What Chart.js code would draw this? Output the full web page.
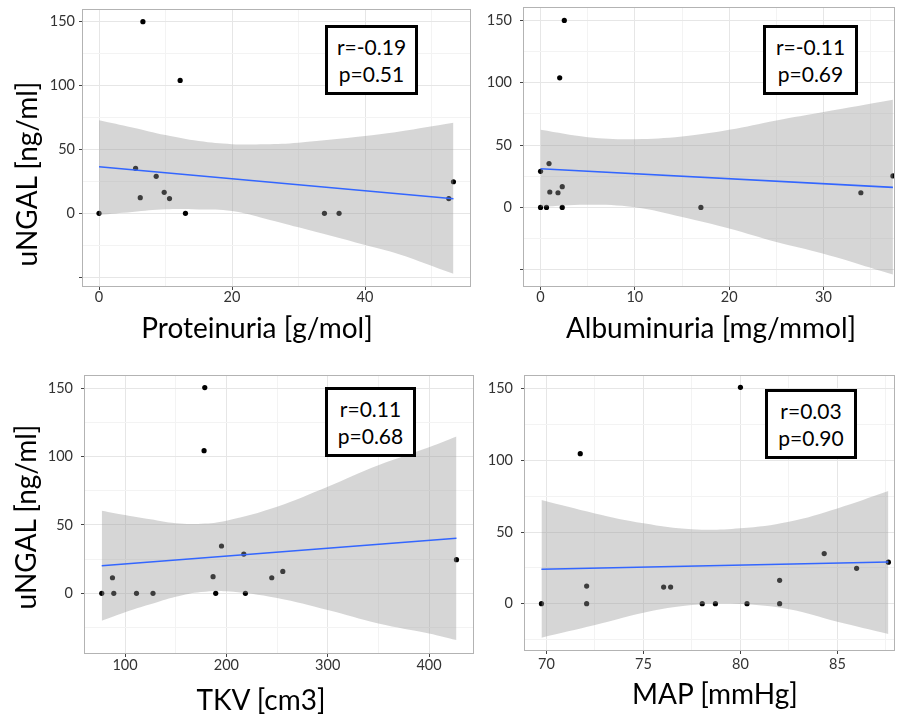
<!DOCTYPE html>
<html>
<head>
<meta charset="utf-8">
<title>uNGAL correlations</title>
<script src="https://cdn.jsdelivr.net/npm/chart.js@4.4.1/dist/chart.umd.min.js"></script>
<style>
  body { margin: 0; background: #fff; }
  #wrap { position: relative; width: 899px; height: 715px; overflow: hidden; font-family: Lato, "Open Sans", sans-serif; color: #000; }
  canvas { position: absolute; }
  .xtitle, .ytitle { position: absolute; font-size: 28px; line-height: 1; white-space: nowrap; }
  .xtitle { transform: translate(-50%, -50%); }
  .ytitle { transform: translate(-50%, -50%) rotate(-90deg); }
  .stat { position: absolute; box-sizing: border-box; border: 3px solid #000; background: #fff;
          display: flex; flex-direction: column; justify-content: center; align-items: center;
          font-size: 21px; line-height: 27px; }
</style>
</head>
<body>
<div id="wrap">
  <canvas id="cProt" width="480" height="350" style="left:0;top:0"></canvas>
  <canvas id="cAlb" width="419" height="350" style="left:480px;top:0"></canvas>
  <canvas id="cTkv" width="480" height="355" style="left:0;top:360px"></canvas>
  <canvas id="cMap" width="419" height="355" style="left:480px;top:360px"></canvas>

  <div class="ytitle" style="left:25.5px;top:174px">uNGAL [ng/ml]</div>
  <div class="ytitle" style="left:25px;top:517px">uNGAL [ng/ml]</div>
  <div class="xtitle" style="left:257px;top:327px">Proteinuria [g/mol]</div>
  <div class="xtitle" style="left:711px;top:327px">Albuminuria [mg/mmol]</div>
  <div class="xtitle" style="left:261px;top:699px">TKV [cm3]</div>
  <div class="xtitle" style="left:715px;top:693px">MAP [mmHg]</div>

  <div class="stat" style="left:325px;top:25px;width:93px;height:70px"><div>r=-0.19</div><div>p=0.51</div></div>
  <div class="stat" style="left:763px;top:25px;width:95px;height:70px"><div>r=-0.11</div><div>p=0.69</div></div>
  <div class="stat" style="left:325px;top:387px;width:91px;height:70px"><div>r=0.11</div><div>p=0.68</div></div>
  <div class="stat" style="left:765px;top:389px;width:92px;height:70px"><div>r=0.03</div><div>p=0.90</div></div>
</div>

<script>
// shared y axis (uNGAL)
const yGrid = [-50, -25, 0, 25, 50, 75, 100, 125, 150];
const yMarks = [-50, 0, 50, 100, 150];
const yLabels = [0, 50, 100, 150];

// Proteinuria
const protX = [0, 5.5, 6.2, 6.6, 8.6, 9.8, 10.6, 12.2, 13.0, 33.9, 36.1, 52.6, 53.3];
const protY = [0, 35.2, 12.2, 150, 28.9, 16.4, 11.5, 104, 0, 0, 0, 11.5, 24.7];
const protFitX = [0, 53.3];
const protFitY = [36.4, 11.4];
const protBandX = [0, 5, 10, 15, 20, 25, 30, 40, 45, 53.3];
const protBandHi = [72.9, 67.2, 61.2, 56.5, 54.1, 54.0, 55.2, 60.4, 63.8, 70.8];
const protBandLo = [-1.3, 1.0, 3.1, 3.0, 1.8, -4.2, -11.0, -24.8, -31.8, -47.4];
const protXGrid = [0, 10, 20, 30, 40, 50];
const protXLabels = [0, 20, 40];

// Albuminuria
const albX = [0, 0, 0.63, 0.9, 0.98, 1.85, 2.03, 2.3, 2.3, 2.52, 17.0, 33.96, 37.36];
const albY = [29.0, 0, 0, 35.2, 12.4, 11.8, 104, 16.7, 0, 150, 0, 11.8, 25.3];
const albFitX = [0, 37.36];
const albFitY = [31.1, 16.1];
const albBandX = [0, 5, 10, 15, 20, 25, 30, 37.36];
const albBandHi = [62.3, 56.4, 54.8, 56.9, 62.3, 69.8, 76.6, 86.5];
const albBandLo = [0.5, 2.2, 0.2, -7.6, -16.9, -27.7, -37.1, -53.8];
const albXGrid = [0, 5, 10, 15, 20, 25, 30, 35];
const albXLabels = [0, 10, 20, 30];

// TKV
const tkvX = [77, 87.6, 88.9, 111.3, 127.6, 178, 178.7, 186.9, 189.5, 195.2, 217.2, 218.8, 244.8, 255.7, 427.1];
const tkvY = [0, 11.4, 0, 0, 0, 104.2, 150.3, 12.2, 0, 34.6, 28.7, 0, 11.4, 16.0, 24.6];
const tkvFitX = [77, 427.1];
const tkvFitY = [20.2, 40.2];
const tkvBandX = [77, 100, 125, 150, 175, 200, 250, 300, 350, 400, 427.1];
const tkvBandHi = [60.4, 57.2, 54.1, 51.2, 50.9, 53.1, 63.3, 77.9, 93.5, 106.7, 114.5];
const tkvBandLo = [-20.0, -13.8, -8.0, -2.5, 1.0, 1.5, -3.4, -12.2, -22.0, -29.3, -34.1];
const tkvXGrid = [50, 100, 150, 200, 250, 300, 350, 400];
const tkvXLabels = [100, 200, 300, 400];

// MAP
const mapX = [69.74, 71.74, 72.07, 72.07, 76.04, 76.4, 78.03, 78.71, 80.0, 80.34, 82.02, 82.02, 84.32, 85.99, 87.63];
const mapY = [0, 104.7, 12.3, 0, 11.6, 11.6, 0, 0, 151, 0, 16.3, 0, 35.0, 24.7, 29.0];
const mapFitX = [69.74, 87.63];
const mapFitY = [24.0, 29.1];
const mapBandX = [69.74, 72.5, 75, 77.5, 80, 82.5, 85, 87.63];
const mapBandHi = [72.3, 63.0, 56.1, 51.9, 52.6, 57.2, 66.5, 78.6];
const mapBandLo = [-23.7, -14.9, -6.3, -0.9, -0.2, -3.9, -12.6, -21.1];
const mapXGrid = [70, 72.5, 75, 77.5, 80, 82.5, 85, 87.5];
const mapXLabels = [70, 75, 80, 85];

const pairs = (xs, ys) => xs.map((x, i) => ({ x: x, y: ys[i] }));
const has = (list, v) => list.some(t => Math.abs(t - v) < 1e-9);
const tickFont = { family: 'Lato', size: 14.5, lineHeight: 1 };

// light grey frame round the plot area, like the ggplot panel border
const frame = {
    id: 'frame',
    afterDatasetsDraw(chart) {
        const a = chart.chartArea, ctx = chart.ctx;
        ctx.save();
        ctx.strokeStyle = '#b3b3b3';
        ctx.lineWidth = 1;
        ctx.strokeRect(a.left + 0.5, a.top + 0.5, a.right - a.left - 1, a.bottom - a.top - 1);
        ctx.restore();
    }
};

function panel(id, p) {
    return new Chart(document.getElementById(id), {
        type: 'line',
        data: {
            datasets: [
                { data: pairs(p.fitX, p.fitY), borderColor: '#3366ff', borderWidth: 1.6, pointRadius: 0 },
                { data: pairs(p.bandX, p.bandHi), fill: '+1', backgroundColor: 'rgba(153,153,153,0.4)',
                  borderColor: 'rgba(0,0,0,0)', borderWidth: 0, pointRadius: 0, tension: 0.4 },
                { data: pairs(p.bandX, p.bandLo), fill: false,
                  borderColor: 'rgba(0,0,0,0)', borderWidth: 0, pointRadius: 0, tension: 0.4 },
                { data: pairs(p.x, p.y), showLine: false, pointRadius: 2.6,
                  pointBackgroundColor: '#000', pointBorderWidth: 0 }
            ]
        },
        options: {
            responsive: false,
            animation: false,
            events: [],
            layout: { padding: { top: p.padTop, right: p.padRight, left: 0, bottom: 0 } },
            plugins: { legend: { display: false }, tooltip: { enabled: false } },
            scales: {
                x: {
                    type: 'linear', min: p.xMin, max: p.xMax, bounds: 'data',
                    afterBuildTicks: s => { s.ticks = p.xGrid.filter(v => v >= p.xMin && v <= p.xMax).map(v => ({ value: v })); },
                    afterFit: s => { s.height = p.xAxisH; s.paddingLeft = 0; s.paddingRight = 0; },
                    border: { display: false },
                    grid: {
                        color: c => has(p.xLabels, c.tick.value) ? '#e6e6e6' : '#f3f3f3',
                        tickColor: c => has(p.xLabels, c.tick.value) ? '#444' : 'rgba(0,0,0,0)',
                        tickLength: 3
                    },
                    ticks: { autoSkip: false, maxRotation: 0, padding: p.xTickPad, color: '#333', font: tickFont,
                             callback: v => has(p.xLabels, v) ? String(v) : '' }
                },
                y: {
                    type: 'linear', min: p.yMin, max: p.yMax, bounds: 'data',
                    afterBuildTicks: s => { s.ticks = yGrid.filter(v => v >= p.yMin && v <= p.yMax).map(v => ({ value: v })); },
                    afterFit: s => { s.width = p.yAxisW; s.paddingTop = 0; s.paddingBottom = 0; },
                    border: { display: false },
                    grid: {
                        color: c => has(yMarks, c.tick.value) ? '#e6e6e6' : '#f3f3f3',
                        tickColor: c => has(yMarks, c.tick.value) ? '#444' : 'rgba(0,0,0,0)',
                        tickLength: 3
                    },
                    ticks: { autoSkip: false, padding: p.yTickPad, color: '#333', font: tickFont,
                             callback: v => has(yLabels, v) ? String(v) : '' }
                }
            }
        },
        plugins: [frame]
    });
}

panel('cProt', {
    x: protX, y: protY, fitX: protFitX, fitY: protFitY,
    bandX: protBandX, bandHi: protBandHi, bandLo: protBandLo,
    xGrid: protXGrid, xLabels: protXLabels,
    xMin: -2.56, xMax: 55.94, yMin: -57.7, yMax: 159.9,
    padTop: 9, padRight: 9, yAxisW: 82, xAxisH: 63, yTickPad: 4, xTickPad: 0
});
panel('cAlb', {
    x: albX, y: albY, fitX: albFitX, fitY: albFitY,
    bandX: albBandX, bandHi: albBandHi, bandLo: albBandLo,
    xGrid: albXGrid, xLabels: albXLabels,
    xMin: -1.86, xMax: 37.58, yMin: -63.8, yMax: 160.8,
    padTop: 7, padRight: 0, yAxisW: 43, xAxisH: 63, yTickPad: 8, xTickPad: 0
});
panel('cTkv', {
    x: tkvX, y: tkvY, fitX: tkvFitX, fitY: tkvFitY,
    bandX: tkvBandX, bandHi: tkvBandHi, bandLo: tkvBandLo,
    xGrid: tkvXGrid, xLabels: tkvXLabels,
    xMin: 59.5, xMax: 444.4, yMin: -44.3, yMax: 159.5,
    padTop: 15, padRight: 6, yAxisW: 84, xAxisH: 61, yTickPad: 8, xTickPad: 1
});
panel('cMap', {
    x: mapX, y: mapY, fitX: mapFitX, fitY: mapFitY,
    bandX: mapBandX, bandHi: mapBandHi, bandLo: mapBandLo,
    xGrid: mapXGrid, xLabels: mapXLabels,
    xMin: 68.84, xMax: 87.97, yMin: -33, yMax: 159.6,
    padTop: 15, padRight: 0, yAxisW: 44, xAxisH: 64, yTickPad: 8, xTickPad: 3
});
</script>
</body>
</html>
